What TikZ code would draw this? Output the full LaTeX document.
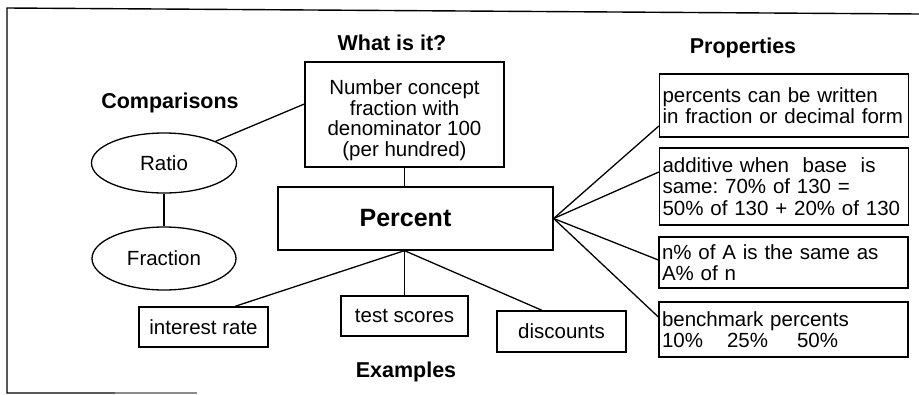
\documentclass[tikz,border=0pt]{standalone}
\usepackage{fontspec}
\setmainfont{Liberation Sans}
\usetikzlibrary{shapes.geometric}
\frenchspacing

\tikzset{
  frameline/.style={line width=1.4pt},
  link/.style={line width=1.3pt},
  body/.style={font=\fontsize{20.5}{21.5}\selectfont},
  heading/.style={font=\bfseries\fontsize{21.5}{24}\selectfont},
  conceptbox/.style={draw, line width=1.3pt, body, align=center, inner sep=0pt},
  propbox/.style={draw, line width=1.3pt, body, align=left, inner xsep=3pt, inner ysep=0pt},
  examplebox/.style={draw, line width=1.3pt, body, align=center, inner sep=0pt},
  compellipse/.style={draw, ellipse, line width=1.3pt, body, inner sep=0pt},
}

\begin{document}
\begin{tikzpicture}[x=1pt, y=-1pt]
  \useasboundingbox (0,0) rectangle (919,394);

  % partial outer frame
  \draw[frameline] (919,14) -- (7,8) -- (7,393) -- (115,393);
  \draw[frameline, black!45] (115,393) -- (197,393);

  % headings
  \node[heading] (hwhat) at (392,43) {What is it?};
  \node[heading] (hcomp) at (170,103) {Comparisons};
  \node[heading] (hprop) at (743,48) {Properties};
  \node[heading] (hexam) at (406,372) {Examples};

  % central concept
  \node[conceptbox, minimum width=275, minimum height=63,
        font=\bfseries\fontsize{25}{28}\selectfont] (pct) at (415.5,218.5)
        {Percent\hspace*{20pt}};

  % definition (strut on the first line lowers the block a little)
  \node[conceptbox, minimum width=199, minimum height=105,
        font=\fontsize{20.5}{20.5}\selectfont] (num) at (404.5,114.5)
        {\rule{0pt}{26pt}Number concept\\fraction with\\denominator 100\\(per hundred)};

  % comparisons
  \node[compellipse, minimum width=145, minimum height=60] (rat) at (164,163) {Ratio};
  \node[compellipse, minimum width=144, minimum height=63] (fra) at (164,258.5) {Fraction};

  % properties
  \node[propbox, minimum width=248, minimum height=63, text width=243] (p1) at (784,105.5)
        {percents can be written\\in fraction or decimal form};
  \node[propbox, minimum width=248, minimum height=77, text width=243] (p2) at (784,186.5)
        {additive when~ base~ is\\same: 70\% of 130 =\\50\% of 130 + 20\% of 130};
  \node[propbox, minimum width=249, minimum height=51, text width=243] (p3) at (783.5,262.5)
        {n\% of A is the same as\\A\% of n};
  \node[propbox, minimum width=249, minimum height=55, text width=243] (p4) at (783.5,329.5)
        {benchmark percents\\10\%\hspace{24pt}25\%\hspace{29pt}50\%};

  % examples
  \node[examplebox, minimum width=129, minimum height=40] (int) at (203.5,327) {interest rate};
  \node[examplebox, minimum width=127, minimum height=40] (tst) at (404.5,316) {test scores};
  \node[examplebox, minimum width=129, minimum height=41] (dis) at (561.5,331.5) {discounts};

  % connectors
  \draw[link] (num.south) -- (num.south |- pct.north);
  \draw[link] (rat) -- ([yshift=10.5pt]num.west);
  \draw[link] (rat) -- (fra);

  \draw[link] (pct.east) -- ([yshift=-20.5pt]p1.west);
  \draw[link] (pct.east) -- ([yshift=14.5pt]p2.west);
  \draw[link] (pct.east) -- ([yshift=2.5pt]p3.west);
  \draw[link] (pct.east) -- ([yshift=12.5pt]p4.west);

  \draw[link] (pct.south -| tst.north) -- ([xshift=31.5pt]int.north);
  \draw[link] (pct.south -| tst.north) -- (tst.north);
  \draw[link] (pct.south -| tst.north) -- ([xshift=-19.5pt]dis.north);
\end{tikzpicture}
\end{document}
